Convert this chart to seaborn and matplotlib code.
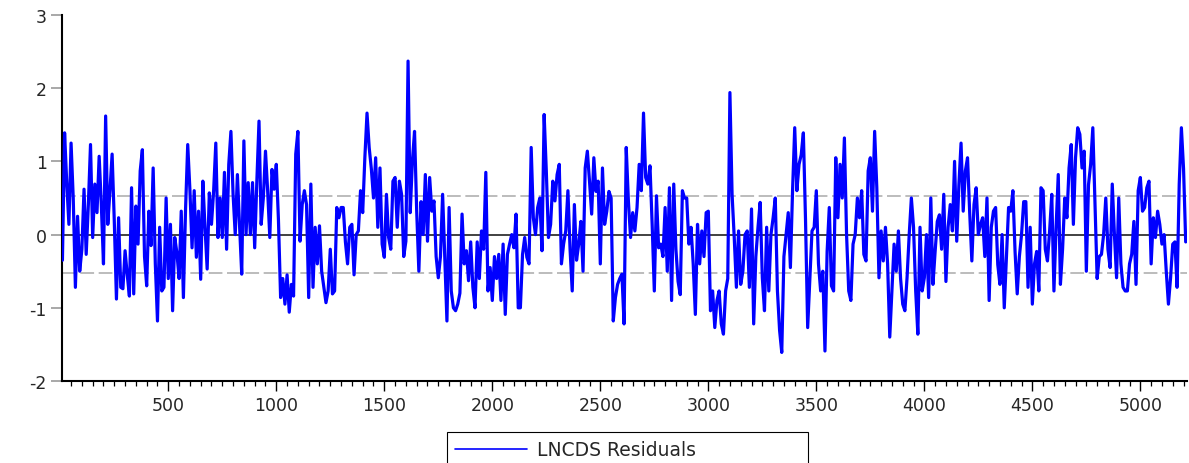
import numpy as np
import pandas as pd
import matplotlib
matplotlib.use("Agg")
import matplotlib.pyplot as plt
from matplotlib.ticker import MultipleLocator
import seaborn as sns

seg1 = [-0.35, 1.39, 0.7, 0.14, 1.25, 0.5, -0.72, 0.25, -0.5, -0.2, 0.62, -0.27, 0.41, 1.23, -0.04, 0.69,
        0.3, 1.07, 0.41, -0.4, 1.62, 0.14, 0.6, 1.1, 0.19, -0.88, 0.23, -0.72, -0.74, -0.22, -0.55, -0.84,
        0.64, -0.81, 0.39, -0.13, 0.87, 1.16, -0.3, -0.7, 0.32, -0.15, 0.91, -0.4, -1.18, 0.1, -0.77,
        -0.72, 0.5, -0.6, 0.14, -1.04, -0.04]
seg2 = [-0.25, -0.6, 0.32, -0.86, 0.35, 1.23, 0.62, -0.18, 0.6, -0.31, 0.32, -0.61, 0.73, 0.1, -0.47,
        0.57, 0.14, 0.6, 1.25, -0.04, 0.5, -0.04, 0.85, -0.2, 0.96, 1.41, 0.55, 0.0, 0.82, 0.12, -0.54,
        1.28, 0.0, 0.71, 0.0, 0.71, -0.18, 0.73, 1.55, 0.14, 0.5, 1.14, 0.6, -0.04, 0.89, 0.62, 0.96,
        0.2, -0.86, -0.6, -0.95, -0.55, -1.06]
seg3 = [-0.68, -0.84, 1.1, 1.41, -0.09, 0.41, 0.6, 0.41, -0.86, 0.69, -0.72, 0.1, -0.4, 0.12, -0.5,
        -0.72, -0.93, -0.77, -0.2, -0.81, -0.77, 0.37, 0.23, 0.37, 0.37, -0.1, -0.4, 0.1, 0.14, -0.55,
        0.0, 0.05, 0.6, 0.3, 1.05, 1.66, 1.19, 0.9, 0.5, 1.05, 0.1, 0.91, -0.13, -0.31, 0.55, -0.04,
        -0.2, 0.73, 0.78, 0.1, 0.73, 0.55, -0.3]
seg4 = [-0.09, 2.37, 0.3, 1.0, 1.41, 0.32, -0.5, 0.45, 0.0, 0.82, -0.09, 0.78, 0.32, 0.46, -0.3, -0.59,
        -0.3, 0.55, -0.31, -1.18, 0.37, -0.77, -1.0, -1.04, -0.95, -0.8, 0.28, -0.4, -0.22, -0.63, -0.1,
        -0.72, -1.0, -0.1, -0.6, 0.05, -0.2, 0.85, -0.77, -0.45, -0.9, -0.3, -0.6, -0.27, -0.9, -0.13,
        -1.09, -0.27, -0.13, 0.0, -0.18, 0.28, -1.0]
seg5 = [-1.0, -0.27, -0.04, -0.31, -0.4, 1.19, 0.23, 0.0, 0.37, 0.5, -0.22, 1.64, 0.87, -0.04, 0.14,
        0.73, 0.46, 0.82, 0.96, -0.4, -0.13, 0.05, 0.6, -0.2, -0.77, 0.41, -0.35, -0.13, 0.18, -0.5,
        0.91, 1.14, 0.73, 0.28, 1.05, 0.59, 0.73, -0.4, 0.91, 0.14, 0.32, 0.59, 0.5, -1.18, -0.86,
        -0.68, -0.6, -0.54, -1.22, 1.19, 0.46, -0.04, 0.3]
seg6 = [0.05, 0.37, 0.96, 0.6, 1.66, 0.78, 0.69, 0.94, 0.14, -0.77, 0.53, -0.18, -0.13, -0.3, 0.37,
        -0.5, 0.64, -0.9, 0.69, -0.2, -0.64, -0.82, 0.6, 0.5, 0.5, -0.13, 0.1, -0.4, -1.09, 0.14, -0.4,
        0.05, -0.3, 0.3, 0.32, -1.04, -0.77, -1.27, -0.9, -0.77, -1.22, -1.36, -0.77, -0.6, 1.94, 0.55,
        -0.04, -0.72, 0.05, -0.68, -0.5, 0.0, 0.05]
seg7 = [-0.72, 0.35, -1.22, -0.3, 0.1, 0.44, -0.59, -1.04, 0.1, -0.77, 0.0, 0.23, 0.5, -0.77, -1.31,
        -1.61, -0.3, 0.0, 0.3, -0.45, 0.6, 1.46, 0.6, 0.96, 1.09, 1.39, 0.2, -1.27, -0.6, 0.05, 0.1,
        0.6, -0.4, -0.77, -0.5, -1.59, -0.23, 0.37, -0.7, -0.77, 1.05, 0.23, 0.96, 0.5, 1.32, 0.0,
        -0.77, -0.9, -0.13, 0.0, 0.5, 0.23, 0.6]
seg8 = [-0.27, -0.36, 0.87, 1.05, 0.32, 1.41, 0.64, -0.59, 0.05, -0.36, 0.1, -0.4, -1.4, -0.77, -0.13,
        -0.5, 0.05, -0.6, -0.95, -1.04, -0.59, 0.0, 0.5, 0.1, -0.77, -1.36, 0.1, -0.77, -0.59, 0.0,
        -0.86, 0.5, -0.68, -0.23, 0.18, 0.27, -0.2, 0.55, -0.64, 0.1, 0.41, 0.05, 1.0, -0.09, 0.68,
        1.25, 0.32, 0.87, 1.05, 0.3, -0.36, 0.41, 0.64]
seg9 = [0.0, 0.14, 0.23, -0.3, 0.5, -0.9, 0.1, 0.32, 0.37, -0.41, -0.68, 0.0, -1.0, -0.3, 0.37, 0.32,
        0.6, -0.23, -0.81, -0.3, 0.0, 0.45, 0.45, -0.72, 0.1, -0.95, -0.4, -0.23, -0.77, 0.64, 0.6,
        -0.2, -0.36, 0.05, 0.55, -0.77, 0.1, 0.82, -0.68, -0.2, 0.5, 0.23, 0.91, 1.23, 0.14, 1.05,
        1.46, 1.37, 0.91, 1.14, -0.5, 0.68, 0.96]
seg10 = [1.46, 0.45, -0.6, -0.3, -0.27, 0.0, 0.5, -0.2, -0.45, 0.69, 0.0, -0.59, 0.5, -0.4, -0.72,
         -0.77, -0.77, -0.4, -0.27, 0.18, -0.68, 0.6, 0.78, 0.32, 0.37, 0.64, 0.73, -0.4, 0.23, -0.04,
         0.32, 0.14, -0.13, 0.0, -0.5, -0.95, -0.59, -0.13, -0.1, -0.72, 0.69, 1.46, 0.9, -0.1]

band_levels = [-0.53, 0.53]
series_name = "LNCDS Residuals"
y_ticks = [-2, -1, 0, 1, 2, 3]
x_ticks = [500, 1000, 1500, 2000, 2500, 3000, 3500, 4000, 4500, 5000]
obs_step = 10

resid = seg1 + seg2 + seg3 + seg4 + seg5 + seg6 + seg7 + seg8 + seg9 + seg10
obs = np.arange(1, len(resid) + 1) * obs_step
df = pd.DataFrame({"obs": obs, "resid": resid})

sns.set_style("white")
plt.rcParams['font.family'] = ['DejaVu Sans']

W, H = 1189, 464
fig = plt.figure(figsize=(W / 100, H / 100), dpi=100)
ax = fig.add_axes([62 / W, 1 - 382 / H, (1187 - 62) / W, (382 - 16) / H])

ax.axhline(0, color="#333333", lw=1.3, zorder=1)
for lv in band_levels:
    ax.axhline(lv, color="#aaaaaa", lw=1.1, dashes=(9, 3), zorder=1)

sns.lineplot(data=df, x="obs", y="resid", ax=ax, color="#0000ff", linewidth=2.3,
             estimator=None, legend=False, zorder=3)

ax.set_xlim(8, 5216)
ax.set_ylim(-2, 3)
ax.set_xlabel("")
ax.set_ylabel("")
ax.set_xticks(x_ticks)
ax.set_xticklabels([str(t) for t in x_ticks])
ax.xaxis.set_minor_locator(MultipleLocator(50))
ax.set_yticks(y_ticks)
ax.set_yticklabels([str(t) for t in y_ticks])

for s in ["top", "right"]:
    ax.spines[s].set_visible(False)
for s in ["left", "bottom"]:
    ax.spines[s].set_color("black")
    ax.spines[s].set_linewidth(1.5)

ax.tick_params(axis="x", which="major", direction="out", length=7, width=1.0,
               color="black", labelsize=12.5, pad=4, bottom=True)
ax.tick_params(axis="x", which="minor", direction="out", length=3.5, width=0.9,
               color="black", bottom=True)
ax.tick_params(axis="y", which="major", direction="out", length=8, width=1.2,
               color="#999999", labelsize=12.5, pad=3, left=True)

line = ax.get_lines()[-1]
leg = fig.legend([line], [series_name], loc="upper left",
                 bbox_to_anchor=(447 / W, 1 - 433 / H - 0.2, 361 / W, 0.2),
                 mode="expand", borderaxespad=0, fontsize=13.5, handlelength=3.8,
                 handletextpad=0.55, borderpad=0.45, fancybox=False, framealpha=1,
                 edgecolor="black")
leg.get_frame().set_linewidth(0.8)
leg.get_lines()[0].set_linewidth(1.2)

fig.savefig("out.png", dpi=100)
